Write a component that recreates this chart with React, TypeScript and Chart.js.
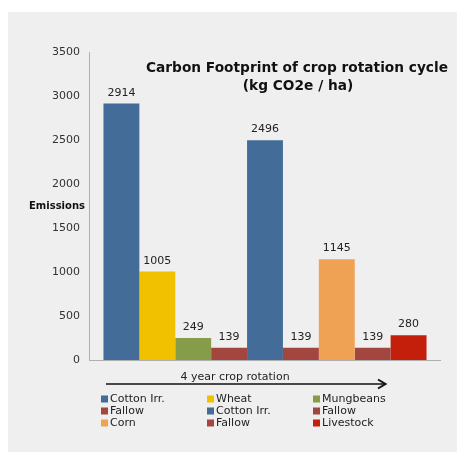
import React, { useEffect, useRef } from "react";
import { Chart, registerables } from "chart.js";

Chart.register(...registerables);

const seriesLabels = ["Cotton Irr.", "Wheat", "Mungbeans", "Fallow", "Cotton Irr.", "Fallow", "Corn", "Fallow", "Livestock"];
const seriesValues = [2914, 1005, 249, 139, 2496, 139, 1145, 139, 280];
const seriesColors = ["#436d98", "#f1c100", "#879c48", "#a3463f", "#436d98", "#a3463f", "#f0a254", "#a3463f", "#c41f0a"];
const categories = [""];
const yTicks = { min: 0, max: 3500, step: 500 };
const titleLines = ["Carbon Footprint of crop rotation cycle", "(kg CO2e / ha)"];
const yAxisTitle = "Emissions";
const xAxisTitle = "4 year crop rotation";

const FONT = "'DejaVu Sans', sans-serif";

const overlayPlugin = {
  id: "overlay",
  afterDatasetsDraw(chart: any) {
    const ctx = chart.ctx;
    ctx.save();
    ctx.font = `11px ${FONT}`;
    ctx.fillStyle = "#222";
    ctx.textAlign = "center";
    ctx.textBaseline = "alphabetic";
    chart.data.datasets.forEach((ds: any, i: number) => {
      const meta = chart.getDatasetMeta(i);
      meta.data.forEach((el: any, j: number) => {
        ctx.fillText(String(ds.data[j]), el.x, el.y - 8);
      });
    });
    ctx.restore();
  },
  afterDraw(chart: any) {
    const ctx = chart.ctx;
    ctx.save();
    // title, fitted to the reference's width
    ctx.fillStyle = "#111";
    ctx.textAlign = "center";
    ctx.textBaseline = "middle";
    ctx.font = `bold 15px ${FONT}`;
    const w = ctx.measureText(titleLines[0]).width;
    const size = Math.min(15, (15 * 302) / w);
    ctx.font = `bold ${size.toFixed(2)}px ${FONT}`;
    ctx.fillText(titleLines[0], 289, 56);
    ctx.fillText(titleLines[1], 290, 74);
    // y axis title
    ctx.font = `bold 10px ${FONT}`;
    ctx.fillText(yAxisTitle, 49, 194);
    // x axis title and arrow
    ctx.font = `11px ${FONT}`;
    ctx.fillStyle = "#222";
    ctx.fillText(xAxisTitle, 227, 365);
    ctx.strokeStyle = "#111";
    ctx.lineWidth = 1.5;
    ctx.beginPath();
    ctx.moveTo(98, 372);
    ctx.lineTo(377, 372);
    ctx.stroke();
    ctx.lineWidth = 2;
    ctx.beginPath();
    ctx.moveTo(370, 367.5);
    ctx.lineTo(377.5, 372);
    ctx.lineTo(370, 376.5);
    ctx.stroke();
    // legend (3 columns)
    const colX = [93, 199, 305];
    const rowY = [387, 399, 411];
    ctx.textAlign = "left";
    ctx.font = `11px ${FONT}`;
    chart.data.datasets.forEach((ds: any, i: number) => {
      const cx = colX[i % 3];
      const cy = rowY[Math.floor(i / 3)];
      ctx.fillStyle = ds.backgroundColor;
      ctx.fillRect(cx, cy - 3.5, 7, 7);
      ctx.fillStyle = "#222";
      ctx.fillText(ds.label, cx + 9, cy + 0.5);
    });
    ctx.restore();
  },
};

export default function App() {
  const canvasRef = useRef<HTMLCanvasElement | null>(null);

  useEffect(() => {
    if (!canvasRef.current) return;
    const chart = new Chart(canvasRef.current, {
      type: "bar",
      data: {
        labels: categories,
        datasets: seriesLabels.map((label, i) => ({
          label,
          data: [seriesValues[i]],
          backgroundColor: seriesColors[i],
          borderWidth: 0,
          categoryPercentage: 0.923,
          barPercentage: 1,
        })),
      },
      options: {
        animation: false,
        responsive: false,
        maintainAspectRatio: false,
        layout: { padding: { left: 42, right: 17, top: 40, bottom: 84 } },
        plugins: {
          legend: { display: false },
          title: { display: false },
          tooltip: { enabled: false },
        },
        scales: {
          x: {
            grid: { display: false },
            border: { display: true, color: "#b0b0b0", width: 1 },
            ticks: { display: false },
          },
          y: {
            min: yTicks.min,
            max: yTicks.max,
            grid: { display: false },
            border: { display: true, color: "#b0b0b0", width: 1 },
            ticks: {
              stepSize: yTicks.step,
              padding: 2,
              color: "#333",
              font: { family: FONT, size: 11 },
              callback: (v: any) => String(v),
            },
          },
        },
      },
      plugins: [overlayPlugin],
    });
    return () => chart.destroy();
  }, []);

  return (
    <div style={{ position: "fixed", left: 8, top: 12, width: 449, height: 440, background: "#efefef" }}>
      <canvas ref={canvasRef} width={449} height={440} style={{ display: "block", width: 449, height: 440 }} />
    </div>
  );
}
